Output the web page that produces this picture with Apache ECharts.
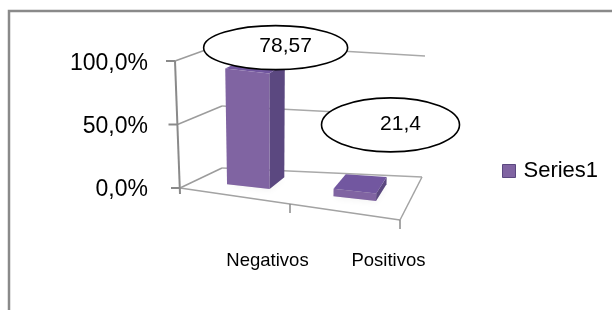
<!DOCTYPE html>
<html lang="pt">
<head>
<meta charset="UTF-8">
<title>Series1</title>
<script src="https://cdn.jsdelivr.net/npm/echarts@6/dist/echarts.min.js"></script>
<style>
    html, body { margin: 0; padding: 0; background: #fff; }
    #chart { width: 612px; height: 310px; }
</style>
</head>
<body>
<div id="chart"></div>
<script>
// data
var categories = ['Negativos', 'Positivos'];
var values = [0.92, 0.06];              // bar heights as drawn
var calloutLabels = ['78,57', '21,4'];  // text typed in the two ellipses
var yTicks = [0, 0.5, 1];

var FONT = 'Liberation Sans, Arial, sans-serif';

// corners of the 3D floor/walls box (px): front/back, left/right, bottom/top
var box = {
    flb: [180, 188], flt: [175, 61],
    frb: [400, 220], frt: [406, 92],
    blb: [222, 168], blt: [222, 44],
    brb: [422, 177], brt: [425, 56]
};
function mix(a, b, k) { return [a[0] + (b[0] - a[0]) * k, a[1] + (b[1] - a[1]) * k]; }
// s: across categories 0..1, t: value 0..1, d: depth 0 front .. 1 back
function proj(s, t, d) {
    var fl = mix(box.flb, box.flt, t), fr = mix(box.frb, box.frt, t);
    var bl = mix(box.blb, box.blt, t), br = mix(box.brb, box.brt, t);
    return mix(mix(fl, fr, s), mix(bl, br, s), d);
}
function normS(cs, px) { return (px - cs.x) / cs.width; }
function normT(cs, py) { return (cs.y + cs.height - py) / cs.height; }

function seg(a, b, color, w) {
    return { type: 'line', shape: { x1: a[0], y1: a[1], x2: b[0], y2: b[1] },
             style: { stroke: color, lineWidth: w } };
}

function renderWalls(params, api) {
    var cs = params.coordSys;
    var els = [];
    yTicks.forEach(function (v) {
        var t = normT(cs, api.coord([0, v])[1]);
        els.push(seg(proj(0, t, 0), proj(0, t, 1), '#9c9c9c', 1.5));
        els.push(seg(proj(0, t, 1), proj(1, t, 1), '#a9a9a9', 1.5));
        // value axis tick
        var p = proj(0, t, 0);
        els.push(seg([p[0] - 9, p[1]], p, '#8a8a8a', 2));
    });
    // floor front and right edges
    els.push(seg(proj(0, 0, 0), proj(1, 0, 0), '#a3a3a3', 1.5));
    els.push(seg(proj(1, 0, 0), proj(1, 0, 1), '#a3a3a3', 1.5));
    // value axis line
    var a0 = proj(0, 0, 0);
    els.push(seg([a0[0], a0[1] + 6], proj(0, 1, 0), '#8a8a8a', 2));
    // category ticks on the front edge
    for (var i = 1; i <= categories.length; i++) {
        var q = proj(i / categories.length, 0, 0);
        els.push(seg(q, [q[0], q[1] + 9], '#8a8a8a', 1.5));
    }
    return { type: 'group', children: els };
}

var D0 = 0.36, D1 = 0.78;
function renderBar(params, api) {
    var cs = params.coordSys;
    var top = api.coord([api.value(0), api.value(1)]);
    var sc = normS(cs, top[0]);
    var hw = api.size([1, 0])[0] * 0.2 / cs.width;
    var t = normT(cs, top[1]);
    var s0 = sc - hw, s1 = sc + hw;
    function poly(pts, fill, extra) {
        var st = { fill: fill };
        for (var k in extra) st[k] = extra[k];
        return { type: 'polygon', shape: { points: pts }, style: st };
    }
    return {
        type: 'group',
        children: [
            poly([proj(s0, 0, D0), proj(s1, 0, D0), proj(s1, 0, D1), proj(s0, 0, D1)], 'rgba(0,0,0,0.12)',
                 { shadowBlur: 6, shadowColor: 'rgba(0,0,0,0.35)', shadowOffsetY: 2 }),
            poly([proj(s1, 0, D0), proj(s1, 0, D1), proj(s1, t, D1), proj(s1, t, D0)], '#5b4880', {}),
            poly([proj(s0, t, D0), proj(s1, t, D0), proj(s1, t, D1), proj(s0, t, D1)], '#7257a0', {}),
            poly([proj(s0, 0, D0), proj(s1, 0, D0), proj(s1, t, D0), proj(s0, t, D0)], '#8064a2', {})
        ]
    };
}

// ellipse call-outs: offset from the bar's top front centre, radii
var CALLOUT = [[26, -22, 72, 22], [34, -64, 69, 27]];
function renderCallout(params, api) {
    var cs = params.coordSys;
    var i = params.dataIndex;
    var top = api.coord([api.value(0), api.value(1)]);
    var p = proj(normS(cs, top[0]), normT(cs, top[1]), 0.42);
    var c = CALLOUT[i];
    var cx = p[0] + c[0], cy = p[1] + c[1];
    return {
        type: 'group',
        children: [
            { type: 'ellipse', shape: { cx: cx, cy: cy, rx: c[2], ry: c[3] },
              style: { fill: '#fff', stroke: '#000', lineWidth: 1.6 } },
            { type: 'text', style: { text: calloutLabels[i], x: cx + 10, y: cy - 1, align: 'center',
              verticalAlign: 'middle', fontSize: 21, fontFamily: FONT, fill: '#000' } }
        ]
    };
}

var points = categories.map(function (c, i) { return [i, values[i]]; });

var chart = echarts.init(document.getElementById('chart'));
chart.setOption({
    animation: false,
    graphic: [{
        type: 'rect', shape: { x: 9, y: 11, width: 700, height: 400 },
        style: { fill: 'none', stroke: '#8a8a8a', lineWidth: 2.5 }, silent: true
    }],
    legend: {
        data: ['Series1'], left: 497, top: 155, icon: 'rect',
        itemWidth: 13, itemHeight: 13, itemGap: 0,
        itemStyle: { borderColor: '#5b4880', borderWidth: 1 },
        textStyle: { fontSize: 22, fontFamily: FONT, color: '#000', padding: [0, 0, 0, 3] }
    },
    grid: { left: 207, right: 163, top: 64, bottom: 120 },
    xAxis: {
        type: 'category', data: categories,
        axisLine: { show: false }, axisTick: { show: false }, splitLine: { show: false },
        axisLabel: { margin: 61, fontSize: 18.5, fontFamily: FONT, color: '#000' }
    },
    yAxis: {
        type: 'value', min: 0, max: 1, interval: 0.5,
        axisLine: { show: false }, axisTick: { show: false }, splitLine: { show: false },
        axisLabel: {
            margin: 59, fontSize: 23, fontFamily: FONT, color: '#000',
            formatter: function (v) { return (v * 100).toFixed(1).replace('.', ',') + '%'; }
        }
    },
    series: [
        { type: 'custom', name: 'walls', z: 1, silent: true, clip: false,
          renderItem: renderWalls, data: [[0, 0]] },
        { type: 'custom', name: 'Series1', z: 2, clip: false,
          itemStyle: { color: '#8064a2' }, renderItem: renderBar, data: points },
        { type: 'custom', name: 'callouts', z: 3, silent: true, clip: false,
          renderItem: renderCallout, data: points }
    ]
});
</script>
</body>
</html>
